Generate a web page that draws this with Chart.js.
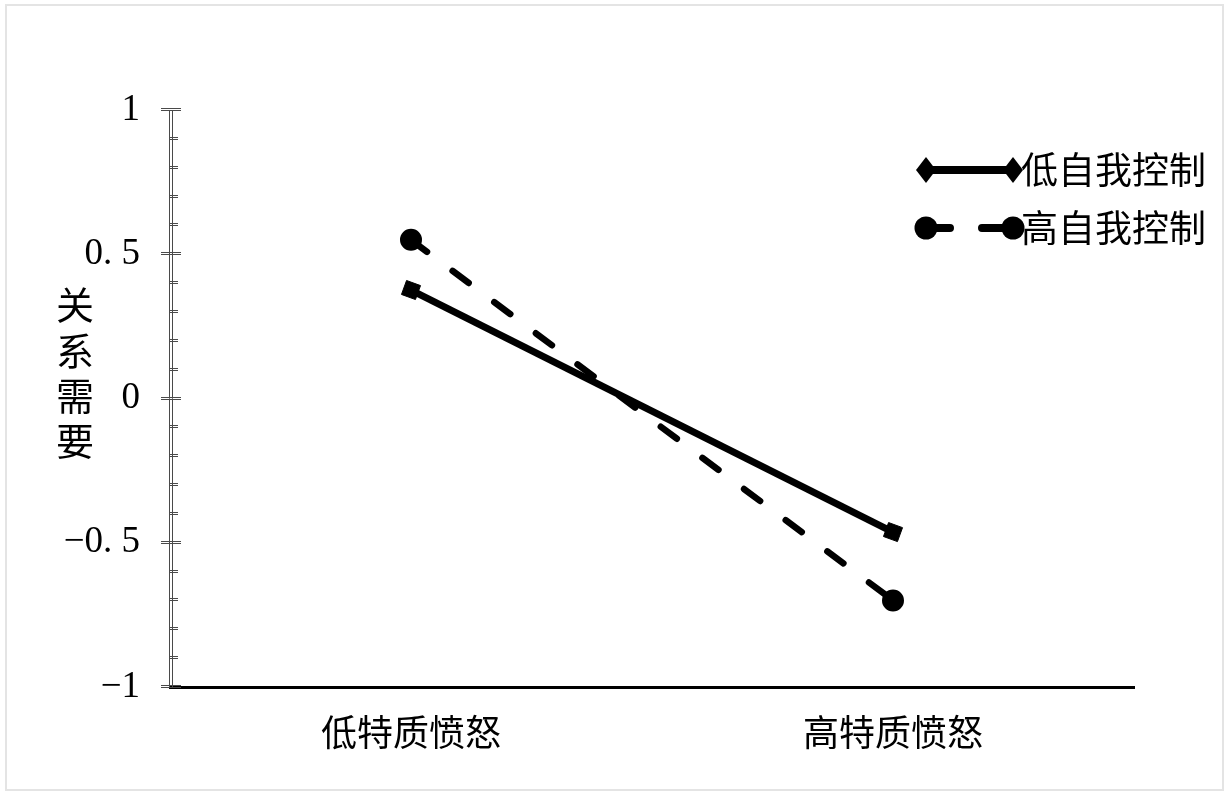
<!DOCTYPE html>
<html>
<head>
<meta charset="utf-8">
<script src="https://cdn.jsdelivr.net/npm/chart.js@4/dist/chart.umd.min.js"></script>
<style>
  html, body { margin: 0; padding: 0; background: #fff; }
  #wrap { width: 1230px; height: 796px; position: relative; }
</style>
</head>
<body>
<div id="wrap"><canvas id="chart" width="1230" height="796"></canvas></div>
<script>
// categories and series
const categories = ['低特质愤怒', '高特质愤怒'];
const lowControl = [0.376, -0.463];
const highControl = [0.55, -0.70];
const seriesNames = ['低自我控制', '高自我控制'];
const yTitle = ['关', '系', '需', '要'];
const yTickValues = [1, 0.5, 0, -0.5, -1];
const yTickLabels = ['1', '0. 5', '0', '−0. 5', '−1'];

const cjkFont = '"Noto Sans CJK SC", "Noto Sans", sans-serif';
const numFont = '"Liberation Serif", "DejaVu Serif", serif';

// y axis with double line, crossing major ticks and inner minor ticks,
// vertical axis title, legend and outer frame
const decor = {
    id: 'decor',
    beforeDraw(chart) {
        const ctx = chart.ctx;
        ctx.save();
        ctx.fillStyle = '#fff';
        ctx.fillRect(0, 0, chart.width, chart.height);
        ctx.strokeStyle = '#e4e4e4';
        ctx.lineWidth = 2;
        ctx.strokeRect(6, 5, 1217, 785);
        ctx.restore();
    },
    afterDraw(chart) {
        const ctx = chart.ctx;
        const y = chart.scales.y;
        const area = chart.chartArea;
        const x0 = area.left;
        ctx.save();

        // double axis line
        ctx.strokeStyle = '#4a4a4a';
        ctx.lineWidth = 1;
        ctx.beginPath();
        ctx.moveTo(x0 - 0.5, area.top); ctx.lineTo(x0 - 0.5, area.bottom);
        ctx.moveTo(x0 + 2.5, area.top); ctx.lineTo(x0 + 2.5, area.bottom);
        ctx.stroke();

        // ticks every 0.1, major every 0.5
        for (let i = -10; i <= 10; i++) {
            const py = Math.round(y.getPixelForValue(i / 10));
            const major = i % 5 === 0;
            const xa = major ? x0 - 9 : x0;
            const xb = major ? x0 + 11 : x0 + 8;
            ctx.beginPath();
            ctx.moveTo(xa, py - 1.5); ctx.lineTo(xb, py - 1.5);
            ctx.moveTo(xa, py + 0.5); ctx.lineTo(xb, py + 0.5);
            ctx.stroke();
        }

        // vertical axis title
        ctx.fillStyle = '#000';
        ctx.font = '38px ' + cjkFont;
        ctx.textAlign = 'center';
        ctx.textBaseline = 'middle';
        yTitle.forEach((ch, i) => ctx.fillText(ch, 75, 305 + i * 45.3));

        // legend
        const rows = [
            { ds: chart.data.datasets[0], y: 170 },
            { ds: chart.data.datasets[1], y: 228 }
        ];
        rows.forEach((r, i) => {
            const xl = 926, xr = 1013;
            ctx.strokeStyle = '#000';
            ctx.lineWidth = 8;
            ctx.lineCap = 'round';
            ctx.setLineDash(i === 1 ? [24, 32] : []);
            ctx.beginPath();
            ctx.moveTo(xl, r.y); ctx.lineTo(xr, r.y);
            ctx.stroke();
            ctx.setLineDash([]);
            ctx.fillStyle = '#000';
            [xl, xr].forEach(cx => {
                ctx.beginPath();
                if (i === 0) {
                    ctx.moveTo(cx, r.y - 13); ctx.lineTo(cx + 10, r.y);
                    ctx.lineTo(cx, r.y + 13); ctx.lineTo(cx - 10, r.y);
                    ctx.closePath();
                } else {
                    ctx.arc(cx, r.y, 11.5, 0, Math.PI * 2);
                }
                ctx.fill();
            });
            ctx.font = '37px ' + cjkFont;
            ctx.textAlign = 'left';
            ctx.textBaseline = 'middle';
            ctx.fillText(seriesNames[i], 1021, r.y);
        });
        ctx.restore();
    }
};

new Chart(document.getElementById('chart'), {
    type: 'line',
    data: {
        labels: categories,
        datasets: [{
            label: seriesNames[0],
            data: lowControl,
            borderColor: '#000',
            backgroundColor: '#000',
            borderWidth: 7,
            pointStyle: 'rect',
            pointRotation: 20,
            pointRadius: 10.5,
            pointBorderWidth: 1,
            fill: false
        }, {
            label: seriesNames[1],
            data: highControl,
            borderColor: '#000',
            backgroundColor: '#000',
            borderWidth: 6.5,
            borderDash: [20, 32],
            borderCapStyle: 'round',
            pointStyle: 'circle',
            pointRadius: 10,
            pointBorderWidth: 2,
            fill: false
        }]
    },
    options: {
        responsive: false,
        animation: false,
        layout: { padding: { top: 110, right: 96, bottom: 0, left: 0 } },
        plugins: {
            legend: { display: false },
            tooltip: { enabled: false }
        },
        scales: {
            x: {
                offset: true,
                grid: { display: false, drawTicks: false },
                border: { display: true, color: '#000', width: 3 },
                ticks: {
                    color: '#000',
                    padding: 24,
                    font: { family: cjkFont, size: 36 }
                },
                afterFit(s) { s.height = 109; }
            },
            y: {
                min: -1,
                max: 1,
                grid: { display: false, drawTicks: false },
                border: { display: false },
                afterBuildTicks(s) { s.ticks = yTickValues.map(v => ({ value: v })); },
                ticks: {
                    color: '#000',
                    padding: 30,
                    font: { family: numFont, size: 37 },
                    callback: v => yTickLabels[yTickValues.indexOf(v)]
                },
                afterFit(s) { s.width = 170; }
            }
        }
    },
    plugins: [decor]
});
</script>
</body>
</html>
